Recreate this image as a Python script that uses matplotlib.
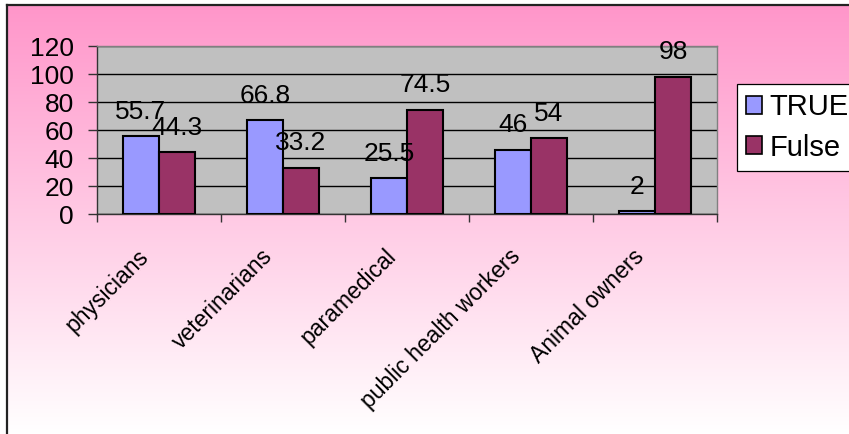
import numpy as np
import matplotlib
matplotlib.use("Agg")
import matplotlib.pyplot as plt
from matplotlib.patches import Patch
from matplotlib.transforms import ScaledTranslation

plt.rcParams['font.family'] = ['Liberation Sans', 'DejaVu Sans']

groups = ['physicians', 'veterinarians', 'paramedical', 'public health workers', 'Animal owners']
true_vals = [55.7, 66.8, 25.5, 46, 2]
fulse_vals = [44.3, 33.2, 74.5, 54, 98]
series_names = ['TRUE', 'Fulse']
yticks = [0, 20, 40, 60, 80, 100, 120]

W, H = 849, 434
fig = plt.figure(figsize=(W / 100, H / 100), dpi=100, facecolor='white')

# pink-to-white backdrop with the frame on the left and top
bg = fig.add_axes([7 / W, 0, 1 - 7 / W, 1 - 5 / H], zorder=-2)
grad = np.linspace(0, 1, 256).reshape(-1, 1)
top = np.array([255, 150, 202]) / 255
bot = np.array([255, 255, 255]) / 255
img = top[None, None, :] * (1 - grad[:, :, None]) + bot[None, None, :] * grad[:, :, None]
bg.imshow(img, aspect='auto', extent=[0, 1, 0, 1], origin='upper')
bg.set_xticks([])
bg.set_yticks([])
for side in ['right', 'bottom']:
    bg.spines[side].set_visible(False)
for side in ['left', 'top']:
    bg.spines[side].set_color('#222222')
    bg.spines[side].set_linewidth(1.6)

ax = fig.add_axes([97 / W, 1 - 214 / H, 620 / W, 168 / H])
ax.set_facecolor('#C0C0C0')

x = np.arange(len(groups))
bw = 0.29
b1 = ax.bar(x - bw / 2, true_vals, bw, color='#9999FF', edgecolor='black', linewidth=1.5, zorder=3)
b2 = ax.bar(x + bw / 2, fulse_vals, bw, color='#993366', edgecolor='black', linewidth=1.5, zorder=3)

for bars, vals in [(b1, true_vals), (b2, fulse_vals)]:
    for rect, v in zip(bars, vals):
        ax.annotate(f'{v:g}', (rect.get_x() + rect.get_width() / 2, v),
                    xytext=(0, 12.5), textcoords='offset points',
                    ha='center', va='baseline', fontsize=19, zorder=5)

ax.set_xlim(-0.5, len(groups) - 0.5)
ax.set_ylim(0, 120)
ax.set_yticks(yticks)
ax.yaxis.grid(True, color='black', linewidth=1.0, zorder=1)
ax.set_axisbelow(True)
ax.tick_params(axis='y', length=6.5, width=1.0, pad=10, labelsize=19, color='#333333')

# category labels at group centres, tick marks at group boundaries
ax.set_xticks(x)
ax.set_xticks(np.arange(len(groups) + 1) - 0.5, minor=True)
ax.tick_params(axis='x', which='major', length=0, pad=28, labelsize=16.5)
ax.tick_params(axis='x', which='minor', length=5.5, width=1.0, color='#333333')
ax.set_xticklabels(groups, rotation=45, ha='right', va='center', rotation_mode='anchor')
shift = ScaledTranslation(-14 / 100, 0, fig.dpi_scale_trans)
for lab in ax.get_xticklabels():
    lab.set_transform(lab.get_transform() + shift)

for side in ['top', 'right']:
    ax.spines[side].set_color('#808080')
    ax.spines[side].set_linewidth(1.0)
for side in ['left', 'bottom']:
    ax.spines[side].set_color('#333333')
    ax.spines[side].set_linewidth(1.0)

handles = [Patch(facecolor='#9999FF', edgecolor='black', linewidth=1.2),
           Patch(facecolor='#993366', edgecolor='black', linewidth=1.2)]
leg = fig.legend(handles, series_names, loc='upper left', bbox_to_anchor=(737 / W, 1 - 84 / H),
                 fontsize=21, frameon=True, fancybox=False, framealpha=1,
                 handlelength=0.55, handleheight=0.55, handletextpad=0.25,
                 borderpad=0.32, labelspacing=0.42, borderaxespad=0)
leg.get_frame().set_edgecolor('black')
leg.get_frame().set_linewidth(0.9)

fig.savefig('out.png', dpi=100, facecolor='white')
